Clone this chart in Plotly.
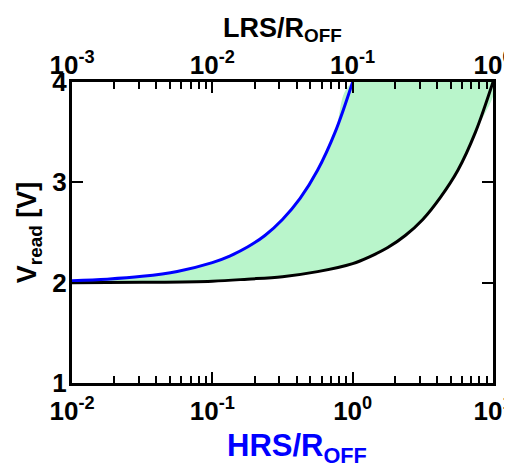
import plotly.graph_objects as go

# Data (bottom axis: HRS/R_OFF)
blue_x = [0.01, 0.0178, 0.0316, 0.0562, 0.1, 0.133, 0.178, 0.237, 0.316, 0.422, 0.562, 0.75, 1.0]
blue_v = [2.02, 2.035, 2.063, 2.112, 2.2, 2.265, 2.355, 2.47, 2.63, 2.84, 3.12, 3.5, 4.0]

black_x = [0.01, 0.0316, 0.1, 0.178, 0.316, 0.562, 1.0, 1.33, 1.78, 2.37, 3.16, 4.22, 5.62, 7.5, 10.0]
black_v = [2.0, 2.004, 2.015, 2.035, 2.06, 2.11, 2.19, 2.26, 2.35, 2.47, 2.63, 2.85, 3.12, 3.5, 4.0]

bottom_ticks = [0.01, 0.1, 1, 10]
bottom_text = ["10<sup>-2</sup>", "10<sup>-1</sup>", "10<sup>0</sup>", "10<sup>1</sup>"]
top_ticks = [0.001, 0.01, 0.1, 1]
top_text = ["10<sup>-3</sup>", "10<sup>-2</sup>", "10<sup>-1</sup>", "10<sup>0</sup>"]
y_ticks = [1, 2, 3, 4]

fill_color = "#b9f5cb"
FONT = "Liberation Sans, Arial, sans-serif"

fig = go.Figure()

# shaded region between curves (closed via top edge at V=4)
fig.add_trace(go.Scatter(
    x=black_x + blue_x[::-1],
    y=black_v + blue_v[::-1],
    fill="toself", fillcolor=fill_color, mode="none",
    line=dict(shape="spline"),
    hoverinfo="skip", showlegend=False))

fig.add_trace(go.Scatter(x=black_x, y=black_v, mode="lines",
                         line=dict(color="black", width=3, shape="spline"),
                         showlegend=False))
fig.add_trace(go.Scatter(x=blue_x, y=blue_v, mode="lines",
                         line=dict(color="#0000ff", width=3, shape="spline"),
                         showlegend=False))

# invisible trace to anchor the top axis
fig.add_trace(go.Scatter(x=top_ticks, y=[y_ticks[0]] * len(top_ticks),
                         xaxis="x2", mode="markers",
                         marker=dict(opacity=0), hoverinfo="skip",
                         showlegend=False))

axis_common = dict(showline=True, linecolor="black", linewidth=3,
                   ticks="inside", ticklen=11, tickwidth=2, tickcolor="black",
                   showgrid=False, zeroline=False, ticklabeloverflow="allow",
                   automargin=False,
                   tickfont=dict(family=FONT, size=26, color="black", weight="bold"))

# page body has an 8px default margin: figure is sized so the plot lands where the reference has it
fig.update_layout(
    width=504, height=462,
    margin=dict(l=64, r=19, t=74, b=87),
    plot_bgcolor="white", paper_bgcolor="white",
    font=dict(family=FONT, color="black", weight="bold"),
    xaxis=dict(type="log", range=[-2, 1], tickvals=bottom_ticks, ticktext=bottom_text,
               minor=dict(ticks="inside", ticklen=7, tickwidth=2, tickcolor="black", dtick="D1"),
               ticklabelstandoff=3,
               **axis_common),
    xaxis2=dict(type="log", range=[-3, 0], tickvals=top_ticks, ticktext=top_text,
                overlaying="x", side="top", anchor="y",
                minor=dict(ticks="inside", ticklen=7, tickwidth=2, tickcolor="black", dtick="D1"),
                ticklabelstandoff=-5,
                title=dict(text="LRS/R<sub>OFF</sub>",
                           font=dict(family=FONT, size=27, color="black", weight="bold"),
                           standoff=2),
                **axis_common),
    yaxis=dict(range=[1, 4], tickvals=y_ticks, mirror="ticks",
               ticklabelstandoff=-3,
               title=dict(text="V<sub>read</sub> [V]",
                          font=dict(family=FONT, size=27, color="black", weight="bold"),
                          standoff=8),
               **axis_common),
    annotations=[dict(text="HRS/R<sub>OFF</sub>", xref="paper", yref="paper",
                      x=0.534, y=0, xanchor="center", yanchor="middle", yshift=-65,
                      showarrow=False,
                      font=dict(family=FONT, size=31, color="#0000ff", weight="bold"))],
)

fig.write_html("out.html")
